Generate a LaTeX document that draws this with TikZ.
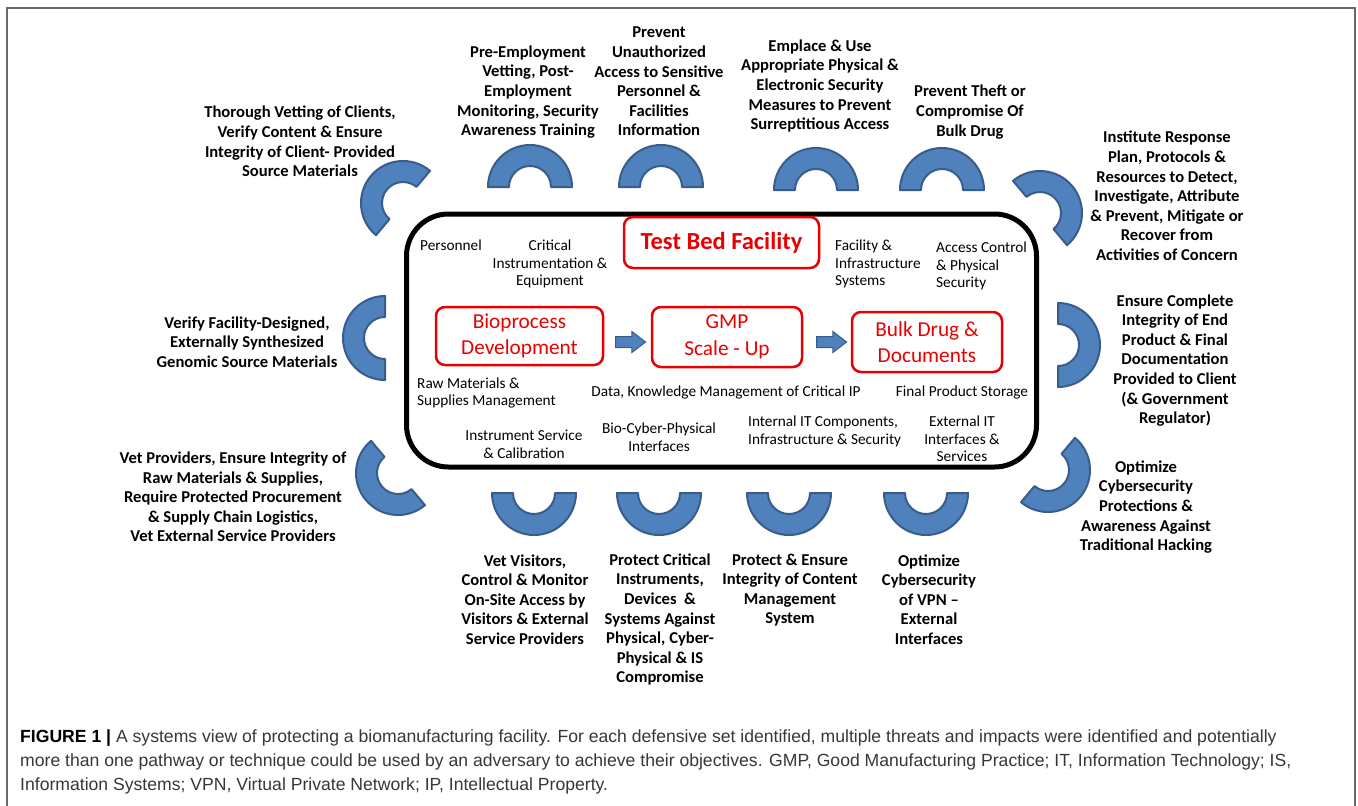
\documentclass[tikz,border=0pt]{standalone}
\usepackage{fontspec}
\setmainfont{Carlito}
\newfontfamily\capfont{Liberation Sans}
\usetikzlibrary{shapes.arrows}

\definecolor{ringblue}{RGB}{79,129,189}
\definecolor{ringedge}{RGB}{56,93,138}
\definecolor{boxred}{RGB}{232,0,0}
\definecolor{captext}{RGB}{55,55,55}
\definecolor{framegray}{RGB}{105,105,105}

\tikzset{
  ring/.style={fill=ringblue, draw=ringedge, line width=2pt, line join=round},
  defence/.style={font=\bfseries\fontsize{16.6}{19.6}\selectfont, align=center, inner sep=0pt},
  part/.style={font=\fontsize{15.3}{17.6}\selectfont, inner sep=0pt},
  stage/.style={draw=boxred, text=boxred, line width=2.5pt, rounded corners=9pt,
    font=\fontsize{21.3}{26.5}\selectfont, align=center, minimum height=58pt},
  flowarrow/.style={single arrow, fill=ringblue, draw=ringedge, line width=1pt,
    minimum height=30pt, inner xsep=0pt, inner ysep=5pt,
    single arrow head extend=5pt, single arrow tip angle=75},
}

% half ring: centre x, centre y, direction of its middle
\newcommand\halfring[3]{%
  \draw[ring, shift={(#1,#2)}] (#3-90:42) arc[start angle=#3-90, delta angle=180, radius=42]
    -- (#3+90:21) arc[start angle=#3+90, delta angle=-180, radius=21] -- cycle;}

\begin{document}
\begin{tikzpicture}[x=1pt, y=-1pt]
\useasboundingbox (0,0) rectangle (1358,806);
\draw[framegray, line width=2pt] (7,806) -- (7,8) -- (1355,8) -- (1355,806);

\node[draw, line width=5pt, rounded corners=42pt, minimum width=630pt, minimum height=253pt] (facility) at (721.5,340.5) {};
\node[stage, font=\bfseries\fontsize{24.5}{28}\selectfont, minimum width=195pt, minimum height=51pt] (testbed) at (721.5,242.5) {Test Bed Facility};
\node[stage, minimum width=167pt] (bio) at (519.5,336) {Bioprocess\\Development};
\node[stage, minimum width=150pt, minimum height=60pt] (gmp) at (727,337) {GMP\\Scale - Up};
\node[stage, minimum width=150pt, minimum height=60pt] (bulk) at (927,342) {Bulk Drug \&\\Documents};
\node[flowarrow] (arrA) at (627,342) {};
\node[flowarrow] (arrB) at (828,342) {};

\node[part] (personnel) at (451,245) {Personnel};
\node[part, align=center] (critical) at (550,264) {Critical\\Instrumentation \&\\Equipment};
\node[part, align=left, anchor=west] (facsys) at (835,264) {Facility \&\\Infrastructure\\Systems};
\node[part, align=left, anchor=west] (access) at (936,266) {Access Control\\\& Physical\\Security};
\node[part, align=left, anchor=west] (rawmat) at (417,393) {Raw Materials \&\\Supplies Management};
\node[part] (datakm) at (726,392) {Data, Knowledge Management of Critical IP};
\node[part] (storage) at (962,392) {Final Product Storage};
\node[part, align=center] (service) at (524,444.5) {Instrument Service\\\& Calibration};
\node[part, align=center] (biocyber) at (659,437) {Bio-Cyber-Physical\\Interfaces};
\node[part, align=left, anchor=west] (internalit) at (748,431.5) {Internal IT Components,\\Infrastructure \& Security};
\node[part, align=center] (externalit) at (962,439) {External IT\\Interfaces \&\\Services};

\halfring{530}{187}{270}
\halfring{661}{187}{270}
\halfring{816}{190}{270}
\halfring{942}{190}{270}
\halfring{403}{203}{220}
\halfring{385}{338}{180}
\halfring{398}{473}{140}
\halfring{1040}{213}{320}
\halfring{1058}{345}{0}
\halfring{1048}{470}{40}
\halfring{534}{493}{90}
\halfring{659}{493}{90}
\halfring{789}{493}{90}
\halfring{926}{493}{90}

\node[defence] (staff) at (528,92) {Pre-Employment\\Vetting, Post-\\Employment\\Monitoring, Security\\Awareness Training};
\node[defence] (info) at (659,81.5) {Prevent\\Unauthorized\\Access to Sensitive\\Personnel \&\\Facilities\\Information};
\node[defence] (emplace) at (820,86) {Emplace \& Use\\Appropriate Physical \&\\Electronic Security\\Measures to Prevent\\Surreptitious Access};
\node[defence] (theft) at (970,112) {Prevent Theft or\\Compromise Of\\Bulk Drug};
\node[defence] (clients) at (300,141.5) {Thorough Vetting of Clients,\\Verify Content \& Ensure\\Integrity of Client- Provided\\Source Materials};
\node[defence] (genomic) at (247,342) {Verify Facility-Designed,\\Externally Synthesized\\Genomic Source Materials};
\node[defence] (providers) at (233,497) {Vet Providers, Ensure Integrity of\\Raw Materials \& Supplies,\\Require Protected Procurement\\\& Supply Chain Logistics,\\Vet External Service Providers};
\node[defence] (response) at (1167,196) {Institute Response\\Plan, Protocols \&\\Resources to Detect,\\Investigate, Attribute\\\& Prevent, Mitigate or\\Recover from\\Activities of Concern};
\node[defence] (product) at (1175,360.5) {Ensure Complete\\Integrity of End\\Product \& Final\\Documentation\\Provided to Client\\(\& Government\\Regulator)};
\node[defence] (hacking) at (1146,507) {Optimize\\Cybersecurity\\Protections \&\\Awareness Against\\Traditional Hacking};
\node[defence] (visitors) at (525,599.5) {Vet Visitors,\\Control \& Monitor\\On-Site Access by\\Visitors \& External\\Service Providers};
\node[defence] (instruments) at (660,619.5) {Protect Critical\\Instruments,\\Devices ~\&\\Systems Against\\Physical, Cyber-\\Physical \& IS\\Compromise};
\node[defence] (content) at (790,590) {Protect \& Ensure\\Integrity of Content\\Management\\System};
\node[defence] (vpn) at (929,599.5) {Optimize\\Cybersecurity\\of VPN --\\External\\Interfaces};

\node[anchor=north west, inner sep=0pt, align=left, text=captext,
  font=\capfont\fontsize{17.6}{24}\selectfont] (caption) at (20,730)
  {\textcolor{black}{\textbf{FIGURE 1 |}} A systems view of protecting a biomanufacturing facility. For each defensive set identified, multiple threats and impacts were identified and potentially\\
  more than one pathway or technique could be used by an adversary to achieve their objectives. GMP, Good Manufacturing Practice; IT, Information Technology; IS,\\
  Information Systems; VPN, Virtual Private Network; IP, Intellectual Property.};
\end{tikzpicture}
\end{document}
